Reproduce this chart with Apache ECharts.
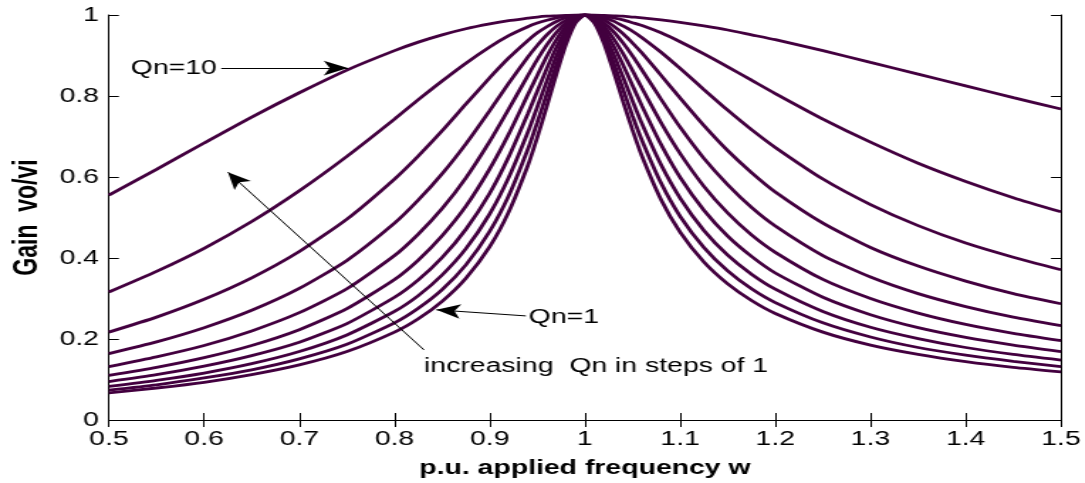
<!DOCTYPE html>
<html>
<head>
<meta charset="utf-8">
<script src="https://cdn.jsdelivr.net/npm/echarts@6/dist/echarts.min.js"></script>
<style>
  html, body { margin: 0; padding: 0; background: #fff; overflow: hidden; }
  /* the source figure is stretched sideways, so the chart is drawn narrow and widened */
  #chart { width: 764px; height: 483px; transform: scaleX(1.42); transform-origin: 0 0; }
</style>
</head>
<body>
<div id="chart"></div>
<script>
// p.u. applied frequency (x)
const freq = [0.5, 0.55, 0.6, 0.65, 0.7, 0.75, 0.8, 0.825, 0.85, 0.875, 0.9, 0.92, 0.94, 0.95, 0.96, 0.97, 0.98, 0.99, 1.0,
  1.01, 1.02, 1.03, 1.04, 1.05, 1.06, 1.08, 1.1, 1.125, 1.15, 1.175, 1.2, 1.25, 1.3, 1.35, 1.4, 1.45, 1.5];

// gain vo/vi, one curve per Qn
const gainQ1 = [0.555, 0.619, 0.684, 0.748, 0.808, 0.864, 0.912, 0.933, 0.951, 0.966, 0.978, 0.986, 0.992, 0.995, 0.997, 0.998, 0.999, 1.0, 1,
  1.0, 0.999, 0.998, 0.997, 0.995, 0.993, 0.988, 0.982, 0.973, 0.963, 0.951, 0.939, 0.912, 0.883, 0.854, 0.825, 0.796, 0.768];
const gainQ2 = [0.316, 0.367, 0.424, 0.490, 0.566, 0.651, 0.743, 0.791, 0.837, 0.881, 0.921, 0.949, 0.971, 0.980, 0.987, 0.993, 0.997, 0.999, 1,
  0.999, 0.997, 0.993, 0.988, 0.981, 0.974, 0.956, 0.934, 0.904, 0.872, 0.839, 0.806, 0.743, 0.686, 0.634, 0.589, 0.549, 0.514];
const gainQ3 = [0.217, 0.254, 0.298, 0.351, 0.416, 0.496, 0.595, 0.652, 0.714, 0.780, 0.845, 0.894, 0.937, 0.956, 0.971, 0.984, 0.993, 0.998, 1,
  0.998, 0.993, 0.985, 0.973, 0.960, 0.944, 0.908, 0.868, 0.816, 0.765, 0.717, 0.673, 0.595, 0.532, 0.480, 0.437, 0.402, 0.371];
const gainQ4 = [0.164, 0.193, 0.228, 0.271, 0.325, 0.394, 0.486, 0.543, 0.608, 0.682, 0.764, 0.832, 0.896, 0.925, 0.951, 0.972, 0.987, 0.997, 1,
  0.997, 0.988, 0.973, 0.954, 0.931, 0.906, 0.851, 0.795, 0.727, 0.665, 0.611, 0.563, 0.486, 0.426, 0.380, 0.343, 0.312, 0.287];
const gainQ5 = [0.132, 0.156, 0.184, 0.220, 0.265, 0.324, 0.406, 0.459, 0.522, 0.598, 0.688, 0.768, 0.850, 0.890, 0.926, 0.957, 0.980, 0.995, 1,
  0.995, 0.981, 0.959, 0.931, 0.899, 0.864, 0.792, 0.723, 0.646, 0.581, 0.525, 0.479, 0.406, 0.353, 0.312, 0.280, 0.254, 0.233];
const gainQ6 = [0.110, 0.130, 0.154, 0.184, 0.223, 0.275, 0.347, 0.395, 0.455, 0.528, 0.620, 0.706, 0.803, 0.851, 0.898, 0.939, 0.972, 0.993, 1,
  0.993, 0.973, 0.942, 0.905, 0.863, 0.819, 0.734, 0.658, 0.577, 0.511, 0.457, 0.414, 0.347, 0.300, 0.264, 0.236, 0.214, 0.196];
const gainQ7 = [0.095, 0.112, 0.133, 0.159, 0.192, 0.238, 0.303, 0.346, 0.401, 0.471, 0.560, 0.650, 0.756, 0.812, 0.868, 0.920, 0.962, 0.990, 1,
  0.990, 0.964, 0.924, 0.877, 0.826, 0.775, 0.680, 0.599, 0.518, 0.454, 0.404, 0.363, 0.303, 0.260, 0.228, 0.204, 0.185, 0.169];
const gainQ8 = [0.083, 0.098, 0.116, 0.139, 0.169, 0.210, 0.268, 0.307, 0.358, 0.423, 0.509, 0.599, 0.710, 0.773, 0.837, 0.899, 0.952, 0.987, 1,
  0.988, 0.953, 0.904, 0.847, 0.788, 0.731, 0.630, 0.548, 0.468, 0.407, 0.360, 0.323, 0.268, 0.229, 0.201, 0.179, 0.162, 0.148];
const gainQ9 = [0.074, 0.087, 0.104, 0.124, 0.151, 0.187, 0.240, 0.276, 0.322, 0.383, 0.466, 0.554, 0.668, 0.735, 0.806, 0.877, 0.940, 0.984, 1,
  0.984, 0.942, 0.883, 0.817, 0.751, 0.690, 0.585, 0.503, 0.426, 0.368, 0.324, 0.290, 0.240, 0.205, 0.179, 0.160, 0.145, 0.132];
const gainQ10 = [0.067, 0.079, 0.093, 0.112, 0.136, 0.169, 0.217, 0.250, 0.293, 0.350, 0.428, 0.514, 0.628, 0.698, 0.775, 0.854, 0.927, 0.980, 1,
  0.980, 0.930, 0.861, 0.787, 0.716, 0.651, 0.544, 0.464, 0.390, 0.336, 0.295, 0.263, 0.217, 0.185, 0.162, 0.144, 0.130, 0.119];

const curves = [gainQ1, gainQ2, gainQ3, gainQ4, gainQ5, gainQ6, gainQ7, gainQ8, gainQ9, gainQ10];

// annotation arrows and notes, in data units [freq, gain]
const arrows = [
  [[0.618, 0.869], [0.751, 0.869]],
  [[0.938, 0.257], [0.844, 0.272]],
  [[0.831, 0.173], [0.625, 0.612]],
];
const notes = [
  {text: 'Qn=10', at: [0.523, 0.869]},
  {text: 'Qn=1', at: [0.941, 0.254]},
  {text: 'increasing  Qn in steps of 1', at: [0.831, 0.133]},
];

const lineColor = '#43003f';
const font = 'Liberation Sans, Arial, sans-serif';

const chart = echarts.init(document.getElementById('chart'));

const tickStyle = {inside: true, length: 7, lineStyle: {color: '#000', width: 1}};
const axisLine = {show: true, lineStyle: {color: '#000', width: 1}};

const seriesData = curves.map((gain, i) => {
  const s = {
    name: 'Qn=' + (i + 1),
    type: 'line',
    data: freq.map((f, k) => [f, gain[k]]),
    showSymbol: false,
    smooth: 0.2,
    lineStyle: {color: lineColor, width: 2.8},
    itemStyle: {color: lineColor},
    emphasis: {disabled: true},
    silent: true,
    z: 2,
  };
  if (i === 0) {
    s.markLine = {
      silent: true,
      symbol: ['none', 'arrow'],
      symbolSize: [11, 17],
      label: {show: false},
      emphasis: {disabled: true},
      lineStyle: {color: '#000', width: 1, type: 'solid'},
      data: arrows.map(a => [{coord: a[0]}, {coord: a[1]}]),
    };
  }
  return s;
});

chart.setOption({
  animation: false,
  backgroundColor: '#fff',
  grid: {left: 71.8, right: 16.2, top: 15, bottom: 63},
  xAxis: [{
    type: 'value',
    min: 0.5, max: 1.5, interval: 0.1,
    position: 'bottom',
    axisLine: axisLine,
    axisTick: tickStyle,
    splitLine: {show: false},
    axisLabel: {color: '#000', fontSize: 20, fontFamily: font, margin: 9},
    name: 'p.u. applied frequency w',
    nameLocation: 'middle',
    nameGap: 38,
    nameTextStyle: {color: '#000', fontSize: 20, fontWeight: 'bold', fontFamily: font},
  }, {
    type: 'value',
    min: 0.5, max: 1.5, interval: 0.1,
    position: 'top',
    axisLine: axisLine,
    axisTick: tickStyle,
    splitLine: {show: false},
    axisLabel: {show: false},
  }],
  yAxis: [{
    type: 'value',
    min: 0, max: 1, interval: 0.2,
    position: 'left',
    axisLine: axisLine,
    axisTick: Object.assign({show: true}, tickStyle),
    splitLine: {show: false},
    axisLabel: {color: '#000', fontSize: 20, fontFamily: font, margin: 7},
    name: 'Gain  vo/vi',
    nameLocation: 'middle',
    nameGap: 43,
    nameTextStyle: {color: '#000', fontSize: 23, fontWeight: 'bold', fontFamily: font},
  }, {
    type: 'value',
    min: 0, max: 1, interval: 0.2,
    position: 'right',
    axisLine: axisLine,
    axisTick: Object.assign({show: true}, tickStyle),
    splitLine: {show: false},
    axisLabel: {show: false},
  }],
  series: seriesData,
});

// place the notes through the axes
chart.setOption({
  graphic: notes.map(n => {
    const p = chart.convertToPixel({xAxisIndex: 0, yAxisIndex: 0}, n.at);
    return {
      type: 'text',
      x: p[0],
      y: p[1],
      silent: true,
      z: 10,
      style: {
        text: n.text,
        fill: '#000',
        font: '20px ' + font,
        textAlign: 'left',
        textVerticalAlign: 'middle',
      },
    };
  }),
});
</script>
</body>
</html>
